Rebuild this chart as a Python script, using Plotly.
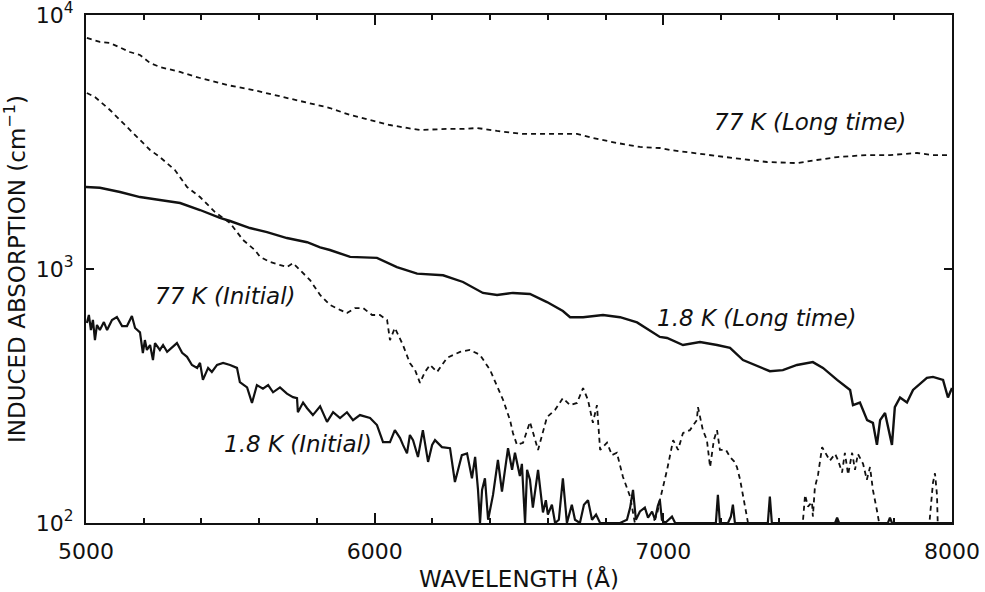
import math
import plotly.graph_objects as go

# Induced absorption spectra (wavelength in Å, absorption in cm^-1)

# 77 K, long time
wl_77_long = [5003, 5048, 5083, 5152, 5187, 5222, 5256, 5326, 5395, 5488, 5579, 5682, 5776,
              5845, 5915, 5984, 6053, 6112, 6157, 6251, 6306, 6355, 6424, 6514, 6583, 6701,
              6756, 6839, 6919, 6988, 7023, 7127, 7241, 7359, 7463, 7532, 7602, 7705, 7785,
              7879, 7934, 7986]
abs_77_long = [8120, 7830, 7758, 7150, 6960, 6471, 6242, 5965, 5649, 5302, 5066, 4755, 4503,
               4304, 4039, 3860, 3689, 3591, 3526, 3560, 3560, 3591, 3495, 3401, 3401, 3401,
               3280, 3135, 3023, 2995, 2941, 2836, 2735, 2638, 2612, 2686, 2759, 2810, 2810,
               2862, 2810, 2810]

# 1.8 K, long time
wl_18_long = [5000, 5048, 5118, 5187, 5256, 5326, 5395, 5464, 5499, 5568, 5627, 5696, 5766,
              5811, 5845, 5915, 6008, 6077, 6147, 6237, 6306, 6375, 6424, 6479, 6538, 6597,
              6652, 6677, 6722, 6791, 6850, 6909, 6988, 7013, 7068, 7127, 7186, 7231, 7276,
              7324, 7369, 7414, 7463, 7518, 7553, 7602, 7647, 7657, 7681, 7706, 7726, 7740,
              7751, 7768, 7778, 7792, 7802, 7820, 7844, 7865, 7913, 7934, 7969, 7986, 8000]
abs_18_long = [2103, 2088, 2010, 1920, 1869, 1819, 1707, 1588, 1545, 1450, 1397, 1324, 1275,
               1216, 1188, 1116, 1106, 1018, 959, 945, 889, 805, 790, 805, 797, 741,
               683, 646, 646, 659, 646, 616, 540, 535, 502, 516, 502, 489, 438,
               415, 396, 400, 419, 430, 408, 366, 334, 291, 298, 254, 248, 203,
               254, 271, 237, 203, 286, 312, 298, 334, 373, 376, 366, 312, 340]

# 77 K, initial (None separates the stretches that drop below the axis floor)
wl_77_init = [5003, 5031, 5083, 5135, 5187, 5222, 5256, 5308, 5350, 5395, 5447, 5499, 5544,
              5585, 5603, 5637, 5696, 5717, 5741, 5776, 5811, 5845, 5880, 5904, 5932, 5960,
              5991, 6018, 6043, 6053, 6070, 6098, 6122, 6140, 6157, 6174, 6192, 6216, 6251,
              6296, 6330, 6365, 6400, 6424, 6445, 6469, 6479, 6493, 6514, 6538, 6566, 6597,
              6625, 6652, 6677, 6701, 6722, 6739, 6756, 6770, 6781, 6805, 6822, 6839, 6860,
              6885, 6895, 6905, None,
              6954, 6978, 6988, 7013, 7034, 7051, 7068, 7092, 7116, 7120, 7137, 7151, 7162,
              7175, 7186, 7196, 7217, 7231, 7245, 7255, 7266, 7279, 7290, 7297, None,
              7480, 7484, 7491, 7501, 7515, 7518, 7525, 7536, 7550, 7567, 7577, 7595, 7605,
              7619, 7629, 7640, 7654, 7664, 7674, 7692, 7705, 7716, 7726, 7740, 7747, 7751, None,
              7920, 7927, 7934, 7941, 7948, 7951]
abs_77_init = [4931, 4755, 4227, 3689, 3220, 2941, 2759, 2453, 2103, 1920, 1675, 1518, 1301,
               1188, 1116, 1066, 1018, 1055, 991, 905, 790, 722, 690, 671, 702, 702,
               659, 659, 630, 525, 586, 502, 426, 400, 356, 393, 419, 393, 447,
               472, 480, 459, 400, 349, 305, 254, 226, 203, 207, 250, 194, 261,
               279, 310, 291, 297, 340, 305, 248, 291, 194, 207, 185, 189, 152,
               127, 109, 95, None,
               95, 108, 123, 162, 212, 194, 226, 232, 254, 286, 232, 212, 166,
               212, 232, 194, 194, 182, 175, 166, 148, 123, 103, 95, None,
               95, 103, 129, 116, 121, 106, 138, 155, 199, 185, 176, 187, 177,
               158, 189, 155, 189, 162, 187, 171, 148, 166, 135, 112, 101, 95, None,
               95, 118, 144, 157, 129, 95]

# 1.8 K, initial
wl_18_init = [5003, 5010, 5017, 5024, 5031, 5038, 5048, 5062, 5073, 5090, 5107, 5125, 5142,
              5159, 5170, 5187, 5197, 5204, 5211, 5222, 5232, 5239, 5256, 5267, 5281, 5298,
              5315, 5333, 5350, 5367, 5385, 5395, 5405, 5423, 5436, 5454, 5475, 5499, 5523,
              5533, 5558, 5575, 5592, 5613, 5631, 5648, 5672, 5696, 5717, 5731, 5734, 5752,
              5766, 5786, 5811, 5835, 5856, 5880, 5904, 5925, 5949, 5984, 6008, 6029, 6053,
              6070, 6088, 6098, 6112, 6122, 6133, 6150, 6167, 6185, 6199, 6209, 6233, 6261,
              6278, 6289, 6302, 6320, 6337, 6348, 6358, 6365, 6372, 6382, 6393, 6410, 6427,
              6441, 6462, 6476, 6486, 6503, 6510, 6521, 6528, 6538, 6548, 6566, 6583, 6593,
              6600, 6614, 6625, 6638, 6652, 6666, 6683, 6694, 6711, 6725, 6739, 6753, 6767,
              6781, 6815, 6850, 6874, 6885, 6895, 6905, 6919, 6936, 6947, 6961, 6971, 6981,
              6988, 6995, 7006, 7030, 7041, 7127, 7182, 7189, 7196, 7224, 7234, 7241, 7248,
              7362, 7369, 7376, 7595, 7602, 7609, 7778, 7785, 7792, 8000]
abs_18_init = [613, 659, 575, 630, 525, 602, 575, 618, 575, 630, 647, 596, 596,
               653, 586, 563, 467, 525, 480, 502, 438, 511, 480, 502, 472, 490,
               511, 468, 451, 419, 408, 427, 366, 408, 393, 419, 427, 419, 408,
               359, 342, 297, 349, 338, 349, 327, 342, 323, 313, 310, 273, 298,
               283, 266, 288, 250, 273, 259, 273, 254, 266, 259, 243, 208, 208,
               232, 216, 203, 188, 222, 212, 182, 232, 174, 203, 212, 199, 197,
               145, 162, 185, 188, 150, 182, 135, 100, 135, 150, 103, 129, 177,
               133, 197, 162, 189, 153, 171, 100, 162, 148, 115, 162, 110, 123,
               108, 118, 100, 103, 150, 100, 118, 103, 100, 118, 123, 103, 108,
               100, 100, 100, 103, 115, 135, 103, 111, 115, 105, 111, 103, 117,
               123, 103, 100, 106, 100, 100, 100, 129, 100, 100, 106, 118, 100,
               100, 127, 100, 100, 105, 100, 100, 105, 100, 100]

# Curve labels: (text, wavelength, absorption)
labels = [
    ("77 K (Long time)", 7508, 3790),
    ("1.8 K (Long time)", 7324, 641),
    ("77 K (Initial)", 5482, 783),
    ("1.8 K (Initial)", 5734, 205),
]

x_ticks = [5000, 6000, 7000, 8000]
y_ticks = [100, 1000, 10000]
y_ticktext = ["10<sup>2</sup>", "10<sup>3</sup>", "10<sup>4</sup>"]

FONT = "DejaVu Sans"
INK = "#111111"

fig = go.Figure()

dash_style = "5px,4px"
fig.add_trace(go.Scatter(x=wl_77_long, y=abs_77_long, mode="lines",
                         line=dict(color=INK, width=1.8, dash=dash_style)))
fig.add_trace(go.Scatter(x=wl_77_init, y=abs_77_init, mode="lines", connectgaps=False,
                         line=dict(color=INK, width=1.8, dash=dash_style)))
fig.add_trace(go.Scatter(x=wl_18_long, y=abs_18_long, mode="lines",
                         line=dict(color=INK, width=2.4)))
fig.add_trace(go.Scatter(x=wl_18_init, y=abs_18_init, mode="lines",
                         line=dict(color=INK, width=2.2)))

for text, wl, val in labels:
    fig.add_annotation(x=wl, y=math.log10(val), xref="x", yref="y",
                       text="<i>" + text + "</i>", showarrow=False,
                       font=dict(family=FONT, size=23, color=INK),
                       xanchor="center", yanchor="middle")

fig.update_layout(
    width=985, height=592,
    margin=dict(l=86, r=33, t=15, b=69),
    paper_bgcolor="white", plot_bgcolor="white",
    showlegend=False,
    font=dict(family=FONT, color=INK),
)

fig.update_xaxes(
    range=[5000, 8000],
    tickvals=x_ticks,
    ticks="inside", ticklen=10, tickwidth=1.5, tickcolor=INK,
    minor=dict(dtick=200, ticks="inside", ticklen=5, tickwidth=1.5, tickcolor=INK),
    showline=True, linecolor=INK, linewidth=2, mirror="ticks",
    showgrid=False, zeroline=False,
    tickfont=dict(family=FONT, size=22, color=INK),
    ticklabelstandoff=8,
    automargin=False,
    title=dict(text="WAVELENGTH (Å)", font=dict(family=FONT, size=23, color=INK), standoff=14),
)

fig.update_yaxes(
    type="log",
    range=[2, 4],
    tickvals=y_ticks, ticktext=y_ticktext,
    ticks="inside", ticklen=8, tickwidth=1.5, tickcolor=INK,
    showline=True, linecolor=INK, linewidth=2, mirror="ticks",
    showgrid=False, zeroline=False,
    tickfont=dict(family=FONT, size=22, color=INK),
    ticklabelstandoff=6,
    ticklabeloverflow="allow",
    automargin=False,
    title=dict(text="INDUCED ABSORPTION (cm<sup>−1</sup>)",
               font=dict(family=FONT, size=23, color=INK), standoff=8),
)

fig.write_html("out.html")
